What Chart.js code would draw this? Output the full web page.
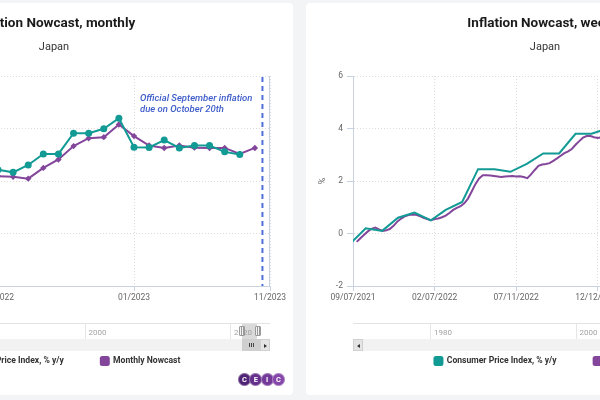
<!DOCTYPE html>
<html>
<head>
<meta charset="utf-8">
<script src="https://cdn.jsdelivr.net/npm/chart.js@4.4.1/dist/chart.umd.min.js"></script>
<style>
  html, body { margin: 0; padding: 0; overflow: hidden; }
  body { width: 600px; height: 400px; background: #f3f4f6; position: relative; font-family: Roboto, sans-serif; }
  .card { position: absolute; top: 3px; width: 478px; height: 392px; background: #fff; border-radius: 4px; overflow: hidden; }
  #cardL { left: -185px; }
  #cardR { left: 306px; }
  .card canvas { position: absolute; left: 0; top: 0; }
  .abs { position: absolute; box-sizing: border-box; }
  .navtop { left: 47px; top: 320px; width: 408px; height: 1px; background: #e3e3e3; }
  .navyear { top: 321px; height: 15px; border-left: 1px solid #e6e6e6; font-size: 8px; line-height: 17px; color: #a3a3a3; padding-left: 3px; white-space: nowrap; }
  .navsel { top: 321px; height: 15px; background: rgba(150,150,150,0.35); }
  .hd { top: 323px; width: 6px; height: 10px; background: #f2f2f2; border: 1px solid #9a9a9a; border-radius: 1px;
        background-image: linear-gradient(90deg, transparent 1px, #9a9a9a 1px, #9a9a9a 2px, transparent 2px, transparent 3px, #9a9a9a 3px, #9a9a9a 4px, transparent 4px); }
  .sbtrack { left: 47px; top: 336px; width: 408px; height: 12px; background: #f2f2f2; }
  .sbthumb { top: 336px; height: 12px; background: #cfcfcf; }
  .grip { top: 4px; width: 1px; height: 4px; background: #444; }
  .sbbtn { top: 336px; width: 10px; height: 12px; background: #e4e4e4; border: 1px solid #d0d0d0; }
  .tri-l { left: 3px; top: 3.5px; width: 0; height: 0; border-top: 2.5px solid transparent; border-bottom: 2.5px solid transparent; border-right: 3px solid #333; }
  .tri-r { left: 3px; top: 3.5px; width: 0; height: 0; border-top: 2.5px solid transparent; border-bottom: 2.5px solid transparent; border-left: 3px solid #333; }
  .logo { left: 423px; top: 370px; width: 48px; height: 14px; }
  .dot { top: 0; width: 13px; height: 13px; border-radius: 50%; color: #fff; font: bold 7.5px Roboto, sans-serif; text-align: center; line-height: 13px; box-shadow: inset 0 0 0 1px rgba(255,255,255,0.35); }
</style>
</head>
<body>
<div class="card" id="cardL"><canvas id="cL" width="478" height="392"></canvas></div>
<div class="card" id="cardR"><canvas id="cR" width="478" height="392"></canvas></div>
<script>
// ---------------- data ----------------
const monthlyTitle = 'Inflation Nowcast, monthly';
const weeklyTitle = 'Inflation Nowcast, weekly';
const country = 'Japan';
const cpiName = 'Consumer Price Index, % y/y';
const monthlyName = 'Monthly Nowcast';
const weeklyName = 'Weekly Nowcast';
const yUnit = '%';
const yTicks = [-2, 0, 2, 4, 6];

// Monthly chart: x = month index (0 = first visible month)
const monthlyCPI = [2.43, 2.33, 2.61, 3.03, 3.03, 3.82, 3.82, 3.99, 4.39, 3.29, 3.28, 3.56, 3.26, 3.35, 3.35, 3.11, 3.01];
const monthlyNowcast = [2.18, 2.16, 2.09, 2.5, 2.82, 3.33, 3.63, 3.67, 4.15, 3.71, 3.35, 3.26, 3.35, 3.27, 3.26, 3.26, 3.03, 3.26];
const monthlyTickPos = [-9, 0, 9, 18];
const monthlyTickLabels = ['05/2021', '03/2022', '01/2023', '11/2023'];
const releaseLinePos = 17.5;
const releaseNote = ['Official September inflation', 'due on October 20th'];

// Weekly chart: x = weeks since the start date
const weeklyStart = '2021-09-07';
const cpiDates = ['2021-09-01','2021-10-01','2021-11-01','2021-12-01','2022-01-01','2022-02-01','2022-03-01','2022-04-01',
  '2022-05-01','2022-06-01','2022-07-01','2022-08-01','2022-09-01','2022-10-01','2022-11-01','2022-12-01','2023-01-01',
  '2023-02-01','2023-03-01','2023-04-01','2023-05-01','2023-06-01','2023-07-01','2023-08-01','2023-09-01','2023-10-01'];
const cpiValues = [-0.4, 0.2, 0.1, 0.6, 0.8, 0.5, 0.9, 1.2,
  2.45, 2.45, 2.35, 2.65, 3.05, 3.05, 3.8, 3.8, 4.0,
  4.35, 3.3, 3.3, 3.55, 3.3, 3.35, 3.35, 3.1, 3.0];
const nowcastFirstWeek = 1;
const weeklyNowcast = [-0.32, -0.18, -0.05, 0.08, 0.18, 0.23, 0.16, 0.10, 0.12, 0.18,
  0.30, 0.46, 0.57, 0.66, 0.70, 0.72, 0.71, 0.66, 0.60, 0.55,
  0.51, 0.55, 0.57, 0.62, 0.68, 0.78, 0.90, 0.98, 1.04, 1.15,
  1.33, 1.60, 1.88, 2.10, 2.22, 2.22, 2.21, 2.19, 2.17, 2.15,
  2.17, 2.18, 2.19, 2.17, 2.18, 2.15, 2.11, 2.25, 2.42, 2.58,
  2.63, 2.65, 2.68, 2.77, 2.86, 2.96, 3.06, 3.13, 3.22, 3.38,
  3.52, 3.65, 3.71, 3.71, 3.67, 3.64, 3.67, 3.70];
const weeklyTickPos = [0, 22, 44, 66, 88, 110];
const weeklyTickLabels = ['09/07/2021', '02/07/2022', '07/11/2022', '12/12/2022', '05/15/2023', '10/16/2023'];

const navYears = [1980, 2000, 2020];

// ---------------- styles ----------------
const TEAL = '#129a95';
const PURPLE = '#83469b';
const AXIS = '#c9d2e3';
const GRID = '#dcdcdc';

Chart.defaults.font.family = 'Roboto';
Chart.defaults.color = '#666';

const legendShift = {
  id: 'legendShift',
  afterLayout(chart) { chart.legend.left += 7; chart.legend.right += 7; }
};

const monthlyExtras = {
  id: 'monthlyExtras',
  afterDraw(chart) {
    const { ctx, chartArea: a, scales: { x } } = chart;
    ctx.save();
    const xr = Math.round(x.getPixelForValue(x.max)) - 0.5;
    ctx.strokeStyle = AXIS; ctx.lineWidth = 1;
    ctx.beginPath(); ctx.moveTo(xr, a.top); ctx.lineTo(xr, a.bottom); ctx.stroke();
    const xl = x.getPixelForValue(releaseLinePos);
    ctx.strokeStyle = '#4e6fd8'; ctx.lineWidth = 2; ctx.setLineDash([5, 4]);
    ctx.beginPath(); ctx.moveTo(xl, a.top + 1); ctx.lineTo(xl, a.bottom); ctx.stroke();
    ctx.setLineDash([]);
    ctx.fillStyle = '#3d5cc9';
    ctx.font = 'italic 500 9.5px Roboto';
    ctx.textAlign = 'left'; ctx.textBaseline = 'middle';
    releaseNote.forEach((t, i) => ctx.fillText(t, xl - 122.5, a.top + 22.3 + i * 11));
    ctx.restore();
  }
};

function makeOptions(titleText, xMin, xMax, tickPos, tickLabels) {
  return {
    responsive: false,
    animation: false,
    layout: { padding: { top: 0, left: 0, right: 0, bottom: 19.7 } },
    plugins: {
      title: { display: true, text: titleText, color: '#1b1b1b',
        font: { size: 13.5, weight: 'bold' }, padding: { top: 13, bottom: 6 } },
      subtitle: { display: true, text: country, color: '#333',
        font: { size: 11 }, padding: { top: 2.2, bottom: 22.4 } },
      legend: { position: 'bottom',
        labels: { boxWidth: 8, boxHeight: 8, padding: 37, color: '#333',
          font: { size: 8.6, weight: 'bold' }, useBorderRadius: true, borderRadius: 1.5 } },
      tooltip: { enabled: false }
    },
    scales: {
      x: {
        type: 'linear', min: xMin, max: xMax,
        afterBuildTicks: s => { s.ticks = tickPos.map(v => ({ value: v })); },
        afterFit: s => { s.height = 33.7; s.paddingLeft = 0; s.paddingRight = 23; },
        ticks: { autoSkip: false, maxRotation: 0, padding: 2, color: '#666', font: { size: 8.5 },
          callback: v => tickLabels[tickPos.indexOf(v)] },
        grid: { color: GRID, tickColor: AXIS, tickLength: 5 },
        border: { color: AXIS, dash: [1, 2] }
      },
      y: {
        min: -2, max: 6,
        afterBuildTicks: s => { s.ticks = yTicks.map(v => ({ value: v })); },
        afterFit: s => { s.width = 47; },
        ticks: { padding: 4, color: '#666', font: { size: 8.5 } },
        grid: { color: GRID, tickColor: AXIS, tickLength: 6 },
        border: { color: AXIS, dash: [1, 2] },
        title: { display: true, text: yUnit, color: '#666', font: { size: 9 }, padding: { top: 11.3, bottom: 0 } }
      }
    }
  };
}

// Monthly chart
new Chart(document.getElementById('cL'), {
  type: 'line',
  data: {
    datasets: [
      { label: cpiName, data: monthlyCPI.map((v, i) => ({ x: i, y: v })),
        borderColor: TEAL, backgroundColor: TEAL, borderWidth: 2,
        pointStyle: 'circle', pointRadius: 3.5, pointBorderWidth: 0, pointBackgroundColor: TEAL },
      { label: monthlyName, data: monthlyNowcast.map((v, i) => ({ x: i, y: v })),
        borderColor: PURPLE, backgroundColor: PURPLE, borderWidth: 2,
        pointStyle: 'rectRot', pointRadius: 3.2, pointBorderWidth: 0, pointBackgroundColor: PURPLE }
    ]
  },
  options: makeOptions(monthlyTitle, -9, 18, monthlyTickPos, monthlyTickLabels),
  plugins: [legendShift, monthlyExtras]
});

// Weekly chart
const t0 = Date.parse(weeklyStart);
const WEEK = 7 * 864e5;
new Chart(document.getElementById('cR'), {
  type: 'line',
  data: {
    datasets: [
      { label: cpiName, data: cpiDates.map((d, i) => ({ x: (Date.parse(d) - t0) / WEEK, y: cpiValues[i] })),
        borderColor: TEAL, backgroundColor: TEAL, borderWidth: 2, pointRadius: 0 },
      { label: weeklyName, data: weeklyNowcast.map((v, i) => ({ x: nowcastFirstWeek + i, y: v })),
        borderColor: PURPLE, backgroundColor: PURPLE, borderWidth: 2, pointRadius: 0 }
    ]
  },
  options: makeOptions(weeklyTitle, 0, 110, weeklyTickPos, weeklyTickLabels),
  plugins: [legendShift]
});

// Navigator, scrollbar and logo decorations (HTML)
function decorate(card) {
  const el = (cls, style, parent, text) => {
    const d = document.createElement('div');
    d.className = 'abs ' + cls;
    if (style) d.style.cssText = style;
    if (text) d.textContent = text;
    (parent || card).appendChild(d);
    return d;
  };
  el('navtop');
  navYears.forEach(y => el('navyear', 'left:' + (47 + (y - 1969.4) * 7.27).toFixed(1) + 'px', null, String(y)));
  el('navsel', 'left:427px;width:15px');
  el('hd', 'left:424px');
  el('hd', 'left:440px');
  el('sbtrack');
  const th = el('sbthumb', 'left:427px;width:18px');
  [7, 9, 11].forEach(g => el('grip', 'left:' + g + 'px', th));
  const bl = el('sbbtn', 'left:47px');
  el('tri-l', '', bl);
  const br = el('sbbtn', 'left:445px');
  el('tri-r', '', br);
  const logo = el('logo');
  const cols = ['#4f2375', '#64308c', '#733a9a', '#8446a8'];
  ['C', 'E', 'I', 'C'].forEach((c, i) => el('dot', 'left:' + (i * 11.3).toFixed(1) + 'px;background:' + cols[i], logo, c));
}
decorate(document.getElementById('cardL'));
decorate(document.getElementById('cardR'));
</script>
</body>
</html>
